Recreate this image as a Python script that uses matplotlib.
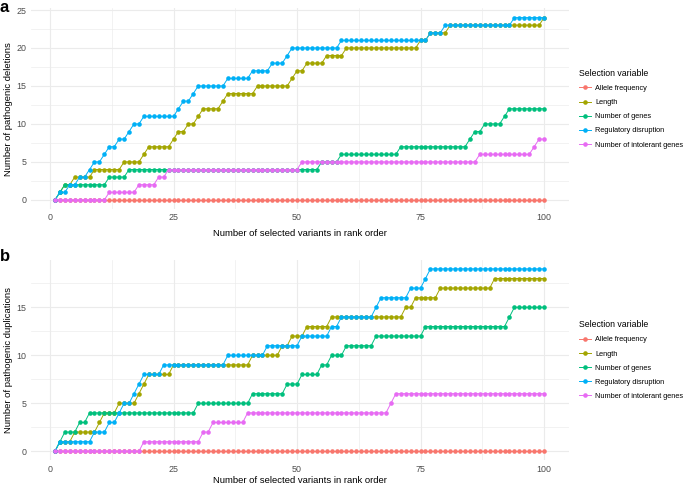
import numpy as np
import matplotlib
matplotlib.use("Agg")
import matplotlib.pyplot as plt
from matplotlib.ticker import MultipleLocator

plt.rcParams["font.family"] = ["Liberation Sans", "DejaVu Sans"]

# rank of selected variant (x axis)
rank = np.arange(1, 101)

labels = ["Allele frequency", "Length", "Number of genes",
          "Regulatory disruption", "Number of intolerant genes"]
colors = ["#F8766D", "#A3A500", "#00BF7D", "#00B0F6", "#E76BF3"]

# ---- panel a: pathogenic deletions ----
del_allele = [0] * 100
del_length = [0, 1, 2, 2, 3, 3, 3, 3, 4, 4,
              4, 4, 4, 4, 5, 5, 5, 5, 6, 7,
              7, 7, 7, 7, 8, 9, 9, 10, 10, 11,
              12, 12, 12, 12, 13, 14, 14, 14, 14, 14,
              14, 15, 15, 15, 15, 15, 15, 15, 16, 17,
              17, 18, 18, 18, 18, 19, 19, 19, 19, 20,
              20, 20, 20, 20, 20, 20, 20, 20, 20, 20,
              20, 20, 20, 20, 21, 21, 22, 22, 22, 22,
              23, 23, 23, 23, 23, 23, 23, 23, 23, 23,
              23, 23, 23, 23, 23, 23, 23, 23, 23, 24]
del_genes = [0, 1, 2, 2, 2, 2, 2, 2, 2, 2,
             2, 3, 3, 3, 3, 4, 4, 4, 4, 4,
             4, 4, 4, 4, 4, 4, 4, 4, 4, 4,
             4, 4, 4, 4, 4, 4, 4, 4, 4, 4,
             4, 4, 4, 4, 4, 4, 4, 4, 4, 4,
             4, 4, 4, 4, 5, 5, 5, 5, 6, 6,
             6, 6, 6, 6, 6, 6, 6, 6, 6, 6,
             7, 7, 7, 7, 7, 7, 7, 7, 7, 7,
             7, 7, 7, 7, 8, 9, 9, 10, 10, 10,
             10, 11, 12, 12, 12, 12, 12, 12, 12, 12]
del_regulatory = [0, 1, 1, 2, 2, 3, 3, 4, 5, 5,
                  6, 7, 7, 8, 8, 9, 10, 10, 11, 11,
                  11, 11, 11, 11, 11, 12, 13, 13, 14, 15,
                  15, 15, 15, 15, 15, 16, 16, 16, 16, 16,
                  17, 17, 17, 17, 18, 18, 18, 19, 20, 20,
                  20, 20, 20, 20, 20, 20, 20, 20, 21, 21,
                  21, 21, 21, 21, 21, 21, 21, 21, 21, 21,
                  21, 21, 21, 21, 21, 21, 22, 22, 22, 23,
                  23, 23, 23, 23, 23, 23, 23, 23, 23, 23,
                  23, 23, 23, 24, 24, 24, 24, 24, 24, 24]
del_intolerant = [0, 0, 0, 0, 0, 0, 0, 0, 0, 0,
                  0, 1, 1, 1, 1, 1, 1, 2, 2, 2,
                  2, 3, 3, 4, 4, 4, 4, 4, 4, 4,
                  4, 4, 4, 4, 4, 4, 4, 4, 4, 4,
                  4, 4, 4, 4, 4, 4, 4, 4, 4, 4,
                  5, 5, 5, 5, 5, 5, 5, 5, 5, 5,
                  5, 5, 5, 5, 5, 5, 5, 5, 5, 5,
                  5, 5, 5, 5, 5, 5, 5, 5, 5, 5,
                  5, 5, 5, 5, 5, 5, 6, 6, 6, 6,
                  6, 6, 6, 6, 6, 6, 6, 7, 8, 8]

# ---- panel b: pathogenic duplications ----
dup_allele = [0] * 100
dup_length = [0, 1, 1, 1, 2, 2, 2, 2, 2, 3,
              4, 4, 4, 5, 5, 5, 5, 6, 7, 8,
              8, 8, 8, 8, 9, 9, 9, 9, 9, 9,
              9, 9, 9, 9, 9, 9, 9, 9, 9, 9,
              10, 10, 10, 10, 10, 10, 11, 11, 12, 12,
              12, 13, 13, 13, 13, 13, 14, 14, 14, 14,
              14, 14, 14, 14, 14, 14, 14, 14, 14, 14,
              14, 15, 15, 16, 16, 16, 16, 16, 17, 17,
              17, 17, 17, 17, 17, 17, 17, 17, 17, 18,
              18, 18, 18, 18, 18, 18, 18, 18, 18, 18]
dup_genes = [0, 1, 2, 2, 2, 3, 3, 4, 4, 4,
             4, 4, 4, 4, 4, 4, 4, 4, 4, 4,
             4, 4, 4, 4, 4, 4, 4, 4, 4, 5,
             5, 5, 5, 5, 5, 5, 5, 5, 5, 5,
             6, 6, 6, 6, 6, 6, 6, 7, 7, 7,
             8, 8, 8, 8, 9, 9, 10, 10, 10, 11,
             11, 11, 11, 11, 11, 12, 12, 12, 12, 12,
             12, 12, 12, 12, 12, 13, 13, 13, 13, 13,
             13, 13, 13, 13, 13, 13, 13, 13, 13, 13,
             13, 13, 14, 15, 15, 15, 15, 15, 15, 15]
dup_regulatory = [0, 1, 1, 1, 1, 1, 1, 1, 2, 2,
                  2, 3, 3, 4, 5, 5, 6, 7, 8, 8,
                  8, 8, 9, 9, 9, 9, 9, 9, 9, 9,
                  9, 9, 9, 9, 9, 10, 10, 10, 10, 10,
                  10, 10, 10, 11, 11, 11, 11, 11, 11, 11,
                  12, 12, 12, 12, 12, 12, 13, 13, 14, 14,
                  14, 14, 14, 14, 14, 15, 16, 16, 16, 16,
                  16, 16, 17, 17, 17, 18, 19, 19, 19, 19,
                  19, 19, 19, 19, 19, 19, 19, 19, 19, 19,
                  19, 19, 19, 19, 19, 19, 19, 19, 19, 19]
dup_intolerant = [0, 0, 0, 0, 0, 0, 0, 0, 0, 0,
                  0, 0, 0, 0, 0, 0, 0, 0, 1, 1,
                  1, 1, 1, 1, 1, 1, 1, 1, 1, 1,
                  2, 2, 3, 3, 3, 3, 3, 3, 3, 4,
                  4, 4, 4, 4, 4, 4, 4, 4, 4, 4,
                  4, 4, 4, 4, 4, 4, 4, 4, 4, 4,
                  4, 4, 4, 4, 4, 4, 4, 4, 5, 6,
                  6, 6, 6, 6, 6, 6, 6, 6, 6, 6,
                  6, 6, 6, 6, 6, 6, 6, 6, 6, 6,
                  6, 6, 6, 6, 6, 6, 6, 6, 6, 6]

W, H = 685, 486
fig = plt.figure(figsize=(W / 100, H / 100), dpi=100)

grid_col = "#EBEBEB"


def panel(rect, series, ymax, ylabel, letter, letter_y, xpad):
    ax = fig.add_axes(rect)
    for vals, col, lab in zip(series, colors, labels):
        ax.plot(rank, vals, color=col, lw=0.7, marker="o", ms=3.3,
                markeredgewidth=0, label=lab)
    ax.set_xlim(-3.95, 104.95)
    ax.set_ylim(-0.05 * ymax, ymax * 1.05)
    ax.xaxis.set_major_locator(MultipleLocator(25))
    ax.xaxis.set_minor_locator(MultipleLocator(12.5))
    ax.yaxis.set_major_locator(MultipleLocator(5))
    ax.yaxis.set_minor_locator(MultipleLocator(2.5))
    ax.grid(which="major", color=grid_col, lw=0.8)
    ax.grid(which="minor", color=grid_col, lw=0.45)
    ax.set_axisbelow(True)
    for s in ax.spines.values():
        s.set_visible(False)
    ax.tick_params(which="both", length=0, labelsize=6.4, labelcolor="#4D4D4D")
    ax.tick_params(axis="x", pad=3)
    ax.tick_params(axis="y", pad=3)
    ax.set_xlabel("Number of selected variants in rank order", fontsize=6.8,
                  labelpad=xpad)
    ax.set_ylabel(ylabel, fontsize=6.8, labelpad=2.5)
    ax.legend(loc="center left", bbox_to_anchor=(1.0, 0.5), frameon=False,
              title="Selection variable", fontsize=5.3, title_fontsize=6.3,
              alignment="left", handlelength=1.6, handletextpad=0.6,
              labelspacing=0.95, borderaxespad=1.0)
    fig.text(0.0, letter_y, letter, fontsize=12, fontweight="bold",
             va="top", ha="left")
    return ax


panel([30.5 / W, 1 - 209 / H, 538 / W, 200.5 / H],
      [del_allele, del_length, del_genes, del_regulatory, del_intolerant],
      24, "Number of pathogenic deletions", "a", 1.0, 5)
panel([30.5 / W, 1 - 460.4 / H, 538 / W, 200.6 / H],
      [dup_allele, dup_length, dup_genes, dup_regulatory, dup_intolerant],
      19, "Number of pathogenic duplications", "b", 1 - 249 / H, 2)

fig.savefig("out.png", dpi=100)
